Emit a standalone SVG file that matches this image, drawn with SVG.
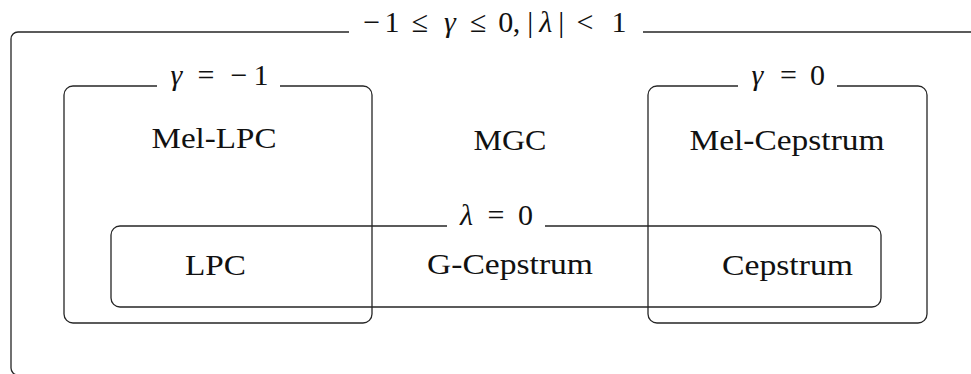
<svg xmlns="http://www.w3.org/2000/svg" width="971" height="374" viewBox="0 0 971 374">
<style>
.box{fill:none;stroke:#262626;stroke-width:1.3}
.mask{fill:#fff;stroke:none}
.t{font-family:Liberation Serif,serif;font-size:30px;fill:#111;text-anchor:middle}
.i{font-style:italic}
</style>
<rect width="971" height="374" fill="#fff"/>
<g id="connectors"/>
<g id="mgc">
<rect class="box" x="11" y="32" width="1000" height="343" rx="7"/>
<rect class="mask" x="349" y="20" width="294" height="20"/>
<text class="t" x="371.7 392 420 450 478.3 505.8 516.5 530.3 545.8 561.3 585 619" y="32">−1≤<tspan class="i">γ</tspan>≤0,|<tspan class="i">λ</tspan>|&lt;1</text>
<text class="t" x="510" y="150" textLength="73" lengthAdjust="spacingAndGlyphs">MGC</text>
</g>
<g id="mel-lpc">
<rect class="box" x="64" y="86" width="308" height="237" rx="9"/>
<rect class="mask" x="157" y="78" width="123" height="14"/>
<text class="t" x="176.5 206 239 261" y="85"><tspan class="i">γ</tspan>=−1</text>
<text class="t" x="214" y="148" textLength="125" lengthAdjust="spacingAndGlyphs">Mel-LPC</text>
</g>
<g id="mel-cepstrum">
<rect class="box" x="648" y="86" width="279" height="237" rx="9"/>
<rect class="mask" x="738" y="78" width="99" height="14"/>
<text class="t" x="757.5 788.5 817.5" y="85"><tspan class="i">γ</tspan>=0</text>
<text class="t" x="787" y="150" textLength="195" lengthAdjust="spacingAndGlyphs">Mel-Cepstrum</text>
</g>
<g id="g-cepstrum">
<rect class="box" x="111" y="226" width="770" height="81" rx="9"/>
<rect class="mask" x="447" y="218" width="98" height="14"/>
<text class="t" x="466.5 496 525.5" y="225"><tspan class="i">λ</tspan>=0</text>
<text class="t" x="510" y="274" textLength="166" lengthAdjust="spacingAndGlyphs">G-Cepstrum</text>
</g>
<g id="lpc">
<text class="t" x="215.5" y="275" textLength="61" lengthAdjust="spacingAndGlyphs">LPC</text>
</g>
<g id="cepstrum">
<text class="t" x="787.5" y="275" textLength="131" lengthAdjust="spacingAndGlyphs">Cepstrum</text>
</g>
</svg>
